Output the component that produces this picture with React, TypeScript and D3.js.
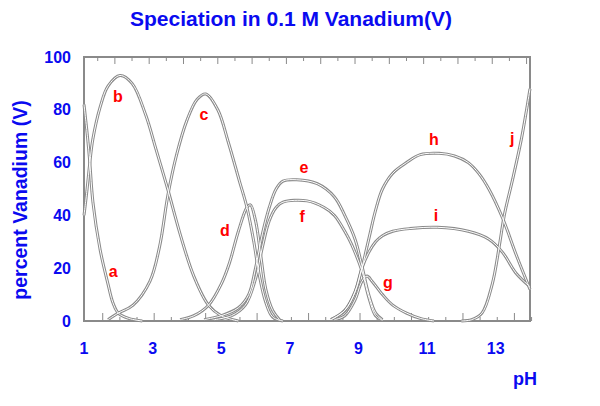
import * as d3 from "d3";

type Pt = [number, number];

// species curves: [pH, percent]
const seriesA: Pt[] = [[1, 82], [1.1, 70], [1.17, 60], [1.26, 45], [1.47, 27], [1.7, 14], [1.84, 7], [2.0, 3], [2.3, 1], [2.7, 0]];
const seriesB: Pt[] = [[1, 40], [1.09, 50], [1.17, 60], [1.26, 69], [1.47, 81], [1.7, 89], [2.05, 93], [2.4, 90], [2.8, 78], [3.1, 65], [3.44, 50], [3.8, 33], [4.2, 17], [4.63, 6], [5, 2], [5.5, 0]];
const seriesC: Pt[] = [[1.7, 0.5], [2.0, 3], [2.43, 6], [2.92, 15], [3.2, 28], [3.45, 48], [3.7, 63], [4.0, 76], [4.3, 84], [4.55, 86], [4.9, 80], [5.2, 68], [5.53, 53], [5.75, 43], [5.95, 30], [6.1, 18], [6.3, 7], [6.5, 1.5], [6.8, 0]];
const seriesD: Pt[] = [[3.8, 0.5], [4.2, 2], [4.63, 6], [5.0, 14], [5.24, 22], [5.5, 34], [5.75, 43], [5.85, 44], [6.0, 38], [6.15, 25], [6.3, 12], [6.5, 4], [6.7, 0.5]];
const seriesE: Pt[] = [[4.5, 0.5], [5.0, 2], [5.5, 5], [5.8, 10], [6.0, 20], [6.2, 33], [6.4, 43], [6.6, 50], [6.8, 53], [7.2, 53.5], [7.8, 52], [8.3, 47], [8.6, 40], [8.9, 31], [9.1, 21], [9.3, 10], [9.5, 3], [9.7, 0.5]];
const seriesF: Pt[] = [[4.8, 0.5], [5.3, 2], [5.7, 6], [6.0, 16], [6.2, 28], [6.4, 38], [6.6, 43], [6.8, 45], [7.5, 45.5], [8.0, 43], [8.3, 40], [8.6, 34], [8.8, 29], [9.1, 19], [9.3, 9], [9.5, 2], [9.7, 0.3]];
const seriesG: Pt[] = [[8.3, 0.5], [8.6, 2], [8.9, 8], [9.1, 15], [9.25, 17], [9.4, 15], [9.7, 10], [10.0, 6], [10.4, 3], [10.8, 1], [11.2, 0]];
const seriesH: Pt[] = [[8.2, 0.5], [8.6, 4], [8.9, 11], [9.1, 20], [9.3, 31], [9.5, 42], [9.7, 50], [10.0, 56], [10.4, 60], [10.8, 63], [11.35, 63.5], [11.8, 62.5], [12.2, 60], [12.5, 56], [12.8, 50], [13.2, 39], [13.6, 25], [14, 12]];
const seriesI: Pt[] = [[8.2, 0.5], [8.6, 4], [8.9, 11], [9.1, 20], [9.3, 26], [9.5, 30], [9.7, 32.3], [10.0, 34], [10.5, 35], [11.3, 35.5], [12.2, 34], [12.8, 31], [13.2, 26], [13.6, 18], [14, 13]];
const seriesJ: Pt[] = [[12.0, 0], [12.3, 0.5], [12.6, 3], [12.9, 14], [13.1, 28], [13.25, 40], [13.5, 54], [13.75, 69], [13.9, 80], [14, 88]];

const allSeries = [seriesA, seriesB, seriesC, seriesD, seriesE, seriesF, seriesG, seriesH, seriesI, seriesJ];

// curve letters and where they sit: [letter, pH, percent]
const curveLabels: [string, number, number][] = [
  ["a", 1.85, 18.6], ["b", 1.99, 85.2], ["c", 4.5, 78.4], ["d", 5.11, 34.1], ["e", 7.41, 58],
  ["f", 7.36, 39.4], ["g", 9.86, 14.4], ["h", 11.2, 68.6], ["i", 11.26, 39.8], ["j", 13.48, 69.3],
];

const xTicks = [1, 3, 5, 7, 9, 11, 13];
const yTicks = [0, 20, 40, 60, 80, 100];

const BLUE = "#0a0af0";
const GRAY = "#8a8a8a";

export default function App() {
  const x = d3.scaleLinear().domain([1, 14]).range([84, 530]);
  const y = d3.scaleLinear().domain([0, 100]).range([321, 57]);

  const line = d3
    .line<Pt>()
    .x((d) => x(d[0]))
    .y((d) => Math.min(y(0), y(d[1])))
    .curve(d3.curveCatmullRom.alpha(0.5));

  // little tick marks hanging off the frame
  const minor = d3.range(1.4, 14, 0.5);

  return (
    <svg width={600} height={406} style={{ position: "absolute", left: 0, top: 0, background: "#fff" }}
      fontFamily="'Liberation Sans', Arial, sans-serif" fontWeight="bold">
      <text x={291} y={26} textAnchor="middle" fontSize={21} fill={BLUE}>
        Speciation in 0.1 M Vanadium(V)
      </text>

      {/* frame */}
      <rect x={x(1)} y={y(100)} width={x(14) - x(1)} height={y(0) - y(100)} fill="none" stroke={GRAY} strokeWidth={2} />
      {minor.map((t, i) => (
        <g key={i} stroke={GRAY} strokeWidth={1}>
          <line x1={x(t)} x2={x(t)} y1={y(100)} y2={y(100) + (i % 2 ? 7 : 4)} />
          <line x1={x(t) + 5} x2={x(t) + 5} y1={y(0)} y2={y(0) - (i % 3 ? 4 : 8)} />
        </g>
      ))}

      {/* curves drawn as hollow double lines */}
      {allSeries.map((s, i) => (
        <path key={"o" + i} d={line(s) ?? ""} fill="none" stroke={GRAY} strokeWidth={3} />
      ))}
      {allSeries.map((s, i) => (
        <path key={"w" + i} d={line(s) ?? ""} fill="none" stroke="#fff" strokeWidth={1} />
      ))}

      {curveLabels.map(([l, px, pv]) => (
        <text key={l} x={x(px)} y={y(pv)} textAnchor="middle" dominantBaseline="central" fontSize={16} fill="#f00">
          {l}
        </text>
      ))}

      {yTicks.map((t) => (
        <text key={t} x={71} y={y(t)} textAnchor="end" dominantBaseline="central" fontSize={16} fill={BLUE}>
          {t}
        </text>
      ))}
      {xTicks.map((t) => (
        <text key={t} x={x(t)} y={348} textAnchor="middle" dominantBaseline="central" fontSize={16} fill={BLUE}>
          {t}
        </text>
      ))}

      <text transform="translate(27,200) rotate(-90)" textAnchor="middle" fontSize={19.5} fill={BLUE}>
        percent Vanadium (V)
      </text>
      <text x={525} y={385} textAnchor="middle" fontSize={18} fill={BLUE}>
        pH
      </text>
    </svg>
  );
}
